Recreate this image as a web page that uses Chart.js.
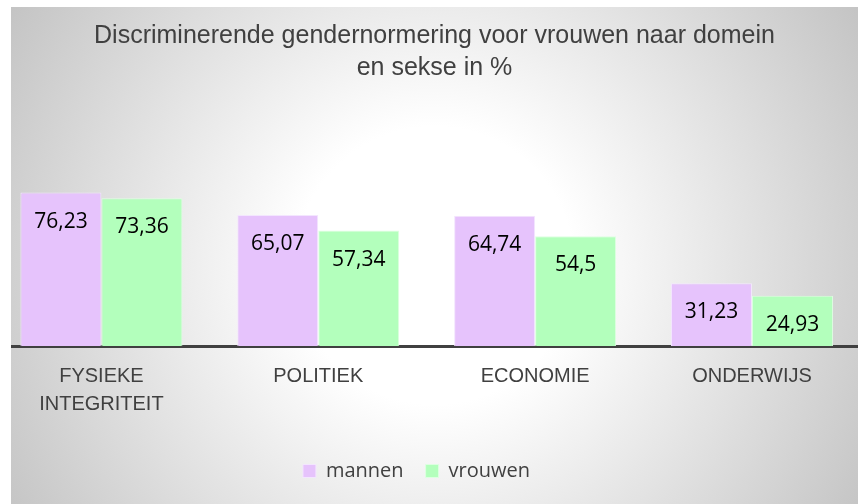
<!DOCTYPE html>
<html>
<head>
<meta charset="utf-8">
<script src="https://cdn.jsdelivr.net/npm/chart.js@4/dist/chart.umd.min.js"></script>
<style>
  html, body { margin: 0; padding: 0; background: #fff; }
  #panel {
    position: absolute; left: 11px; top: 7px; width: 847px; height: 497px;
    background: radial-gradient(circle farthest-corner at 50% 52%, #ffffff 0%, #ffffff 28%, #c4c4c4 100%);
  }
</style>
</head>
<body>
<div id="panel"><canvas id="chart" width="847" height="497"></canvas></div>
<script>
// data
const domains = [['FYSIEKE', 'INTEGRITEIT'], 'POLITIEK', 'ECONOMIE', 'ONDERWIJS'];
const mannen = [76.23, 65.07, 64.74, 31.23];
const vrouwen = [73.36, 57.34, 54.5, 24.93];
const titleLines = ['Discriminerende gendernormering voor vrouwen naar domein', 'en sekse in %'];

// values written inside the top of each bar, with a decimal comma
const valueLabels = {
  id: 'valueLabels',
  afterDatasetsDraw(chart) {
    const ctx = chart.ctx;
    ctx.save();
    ctx.font = '21px "Open Sans"';
    ctx.fillStyle = '#000000';
    ctx.textAlign = 'center';
    ctx.textBaseline = 'alphabetic';
    chart.data.datasets.forEach((ds, i) => {
      chart.getDatasetMeta(i).data.forEach((bar, j) => {
        ctx.fillText(String(ds.data[j].y).replace('.', ','), bar.x, bar.y + 35);
      });
    });
    ctx.restore();
  }
};

// the legend in the original sits a little left of centre
const legendShift = {
  id: 'legendShift',
  afterLayout(chart) {
    chart.legend.left -= 18;
    chart.legend.right -= 18;
  }
};

const ctx = document.getElementById('chart');

new Chart(ctx, {
  type: 'bar',
  data: {
    datasets: [
      {
        label: 'mannen',
        data: mannen.map((v, i) => ({ x: i, y: v })),
        backgroundColor: '#E6C3FC',
        borderColor: '#F3E6FE',
        borderWidth: 1
      },
      {
        label: 'vrouwen',
        data: vrouwen.map((v, i) => ({ x: i, y: v })),
        backgroundColor: '#B3FFBC',
        borderColor: '#DDFFE1',
        borderWidth: 1
      }
    ]
  },
  options: {
    responsive: false,
    animation: false,
    categoryPercentage: 0.747,
    barPercentage: 1,
    layout: { padding: { left: 0, right: 0, top: 0, bottom: 13 } },
    scales: {
      x: {
        type: 'linear',
        offset: false,
        min: -0.417,
        max: 3.489,
        afterBuildTicks: (scale) => {
          scale.ticks = domains.map((_, i) => ({ value: i }));
        },
        afterFit: (scale) => {
          scale.height = 93;
        },
        grid: { display: false, drawTicks: false, offset: false },
        border: { display: true, color: '#404040', width: 3 },
        ticks: {
          callback: (value) => domains[value],
          color: '#404040',
          font: { family: 'Liberation Sans', size: 20, lineHeight: 1.4 },
          padding: 16,
          maxRotation: 0,
          autoSkip: false
        }
      },
      y: {
        display: false,
        min: 0,
        max: 80
      }
    },
    plugins: {
      title: {
        display: true,
        text: titleLines,
        color: '#404040',
        font: { family: 'Liberation Sans', size: 25, weight: 'normal', lineHeight: 1.28 },
        padding: { top: 13, bottom: 101 }
      },
      legend: {
        position: 'bottom',
        labels: {
          boxWidth: 13,
          boxHeight: 13,
          padding: 22,
          color: '#404040',
          font: { family: 'Open Sans', size: 20 }
        }
      },
      tooltip: { enabled: false }
    }
  },
  plugins: [valueLabels, legendShift]
});
</script>
</body>
</html>
